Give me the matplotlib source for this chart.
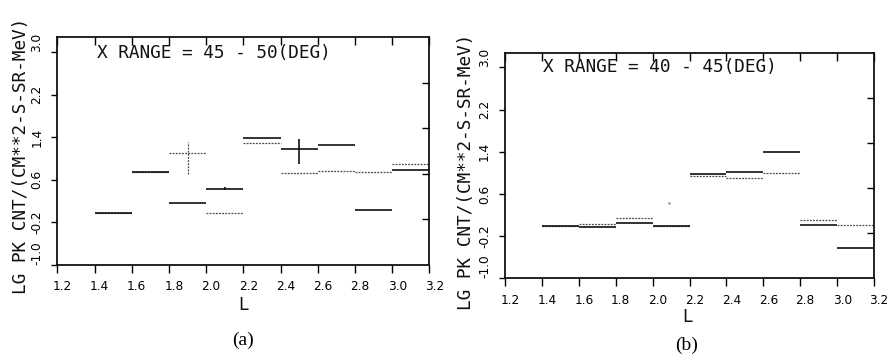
import matplotlib
matplotlib.use("Agg")
import matplotlib.pyplot as plt
from matplotlib.transforms import ScaledTranslation
import numpy as np

# ---------------- data ----------------
L_edges = [1.4, 1.6, 1.8, 2.0, 2.2, 2.4, 2.6, 2.8, 3.0, 3.2]

a_solid = [-0.02, 0.75, 0.16, 0.43, 1.39, 1.18, 1.25, 0.03, 0.78]
a_solid_err_lo = [0, 0, 0, 0.03, 0, 0.29, 0, 0, 0]
a_solid_err_hi = [0, 0, 0, 0.03, 0, 0.18, 0, 0, 0]
a_dotted = [-0.02, 0.74, 1.10, -0.02, 1.285, 0.72, 0.765, 0.75, 0.90]
a_dotted_err_lo = [0, 0, 0.39, 0, 0, 0, 0, 0, 0]
a_dotted_err_hi = [0, 0, 0.20, 0, 0, 0, 0, 0, 0]

b_solid = [-0.01, -0.02, 0.04, 0.00, 0.98, 1.015, 1.39, 0.01, -0.42]
b_dotted = [-0.01, 0.03, 0.14, 0.00, 0.94, 0.90, 0.99, 0.105, 0.005]
b_point_L = [2.09]
b_point_val = [0.43]

x_ticks = [1.2, 1.4, 1.6, 1.8, 2.0, 2.2, 2.4, 2.6, 2.8, 3.0, 3.2]
x_ticklabels = ["1.2", "1.4", "1.6", "1.8", "2.0", "2.2", "2.4", "2.6", "2.8", "3.0", "3.2"]
y_ticks = [-1.0, -0.2, 0.6, 1.4, 2.2, 3.0]
y_ticklabels = ["-1.0", "-0.2", "0.6", "1.4", "2.2", "3.0"]
right_ticks = [-0.2, 0.6, 1.4, 2.2]

titles = ["X RANGE = 45 - 50(DEG)", "X RANGE = 40 - 45(DEG)"]
ylabel = "LG PK CNT/(CM**2-S-SR-MeV)"
xlabel = "L"
panel_tags = ["(a)", "(b)"]

# ---------------- figure ----------------
W, H = 891, 354
fig = plt.figure(figsize=(W / 100, H / 100), dpi=100)
MONO = ["DejaVu Sans Mono"]
SANS = ["DejaVu Sans"]


def px_axes(l, r, t, b):
    return fig.add_axes([l / W, 1 - b / H, (r - l) / W, (b - t) / H])


axA = px_axes(57.3, 429.3, 37, 265)
axB = px_axes(505, 874, 52.7, 278.3)

dotted_style = dict(color="#4a4a4a", lw=0.9, linestyles=(0, (1.5, 1.0)))
solid_style = dict(color="#111111", lw=1.2, linestyles="solid")


def draw_panel(ax, solid, dotted, s_lo=None, s_hi=None, d_lo=None, d_hi=None):
    edges = np.array(L_edges)
    left, right = edges[:-1], edges[1:]
    centers = (left + right) / 2
    solid = np.array(solid)
    dotted = np.array(dotted)
    ax.hlines(dotted, left, right, **dotted_style)
    ax.hlines(solid, left, right, **solid_style)
    if d_lo is not None:
        d_lo, d_hi = np.array(d_lo), np.array(d_hi)
        m = (d_lo + d_hi) > 0
        ax.vlines(centers[m], dotted[m] - d_lo[m], dotted[m] + d_hi[m], **dotted_style)
    if s_lo is not None:
        s_lo, s_hi = np.array(s_lo), np.array(s_hi)
        m = (s_lo + s_hi) > 0
        ax.vlines(centers[m], solid[m] - s_lo[m], solid[m] + s_hi[m], **solid_style)

    ax.set_xlim(1.2, 3.2)
    ax.set_ylim(-1.0, 3.28)
    ax.set_xticks(x_ticks)
    ax.set_xticklabels(x_ticklabels, family=SANS, fontsize=8.7)
    ax.set_yticks(y_ticks)
    ax.set_yticklabels(y_ticklabels, family=SANS, fontsize=8.7, rotation=90,
                       va="center")
    for lbl in ax.get_yticklabels():
        if lbl.get_text() in ("-1.0", "3.0"):
            lbl.set_va("bottom")
    ax.tick_params(axis="x", which="both", direction="out", length=6, width=1.0,
                   top=True, labeltop=False, pad=5)
    for t in ax.xaxis.get_major_ticks():
        t.tick2line.set_marker(matplotlib.lines.TICKDOWN)
        t.tick2line.set_markersize(6)
    ax.tick_params(axis="y", direction="out", length=4, width=1.0, right=False,
                   pad=6)
    off = ScaledTranslation(5 / 100, 0, fig.dpi_scale_trans)
    for lbl in ax.get_xticklabels():
        lbl.set_transform(lbl.get_transform() + off)
    for sp in ax.spines.values():
        sp.set_linewidth(1.3)
        sp.set_color("#111111")

    tw = ax.twinx()
    tw.set_ylim(-1.0, 3.0)
    tw.set_yticks(right_ticks)
    tw.set_yticklabels([])
    tw.tick_params(axis="y", direction="in", length=5, width=1.0)
    for sp in tw.spines.values():
        sp.set_visible(False)
    return ax


draw_panel(axA, a_solid, a_dotted, a_solid_err_lo, a_solid_err_hi,
           a_dotted_err_lo, a_dotted_err_hi)
draw_panel(axB, b_solid, b_dotted)
axB.plot(b_point_L, b_point_val, ls="none", marker="s", ms=0.8, color="#999999")

# titles inside panels
fig.text(97 / W, 1 - 53 / H, titles[0], family=MONO, fontsize=12.8,
         ha="left", va="center", color="#111111")
fig.text(543 / W, 1 - 67 / H, titles[1], family=MONO, fontsize=12.8,
         ha="left", va="center", color="#111111")

# y labels
fig.text(21 / W, 1 - 156 / H, ylabel, family=MONO, fontsize=12.8, rotation=90,
         ha="center", va="center", color="#111111")
fig.text(466 / W, 1 - 172 / H, ylabel, family=MONO, fontsize=12.8, rotation=90,
         ha="center", va="center", color="#111111")

# x labels
fig.text(243 / W, 1 - 305 / H, xlabel, family=SANS, fontsize=12.5,
         ha="center", va="center", color="#111111")
fig.text(687 / W, 1 - 317 / H, xlabel, family=SANS, fontsize=12.5,
         ha="center", va="center", color="#111111")

# panel tags
fig.text(243 / W, 1 - 340 / H, panel_tags[0], family=["Liberation Serif"],
         fontsize=14, ha="center", va="center")
fig.text(687 / W, 1 - 345 / H, panel_tags[1], family=["Liberation Serif"],
         fontsize=14, ha="center", va="center")

fig.savefig("out.png", dpi=100)
